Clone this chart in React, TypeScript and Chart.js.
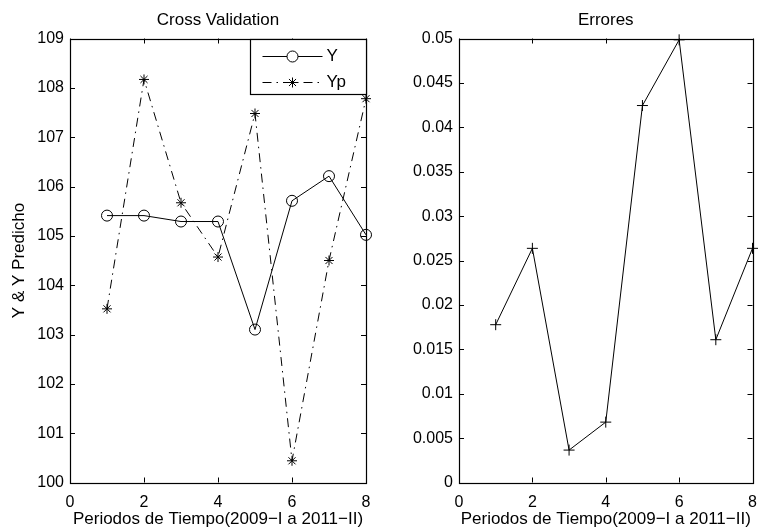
import React, { useEffect, useRef } from "react";
import { Chart, registerables } from "chart.js";

Chart.register(...registerables);

// Periods (x positions) shared by both panels
const PERIODS = [1, 2, 3, 4, 5, 6, 7, 8];
// Observed values
const Y_ACTUAL = [105.41, 105.41, 105.29, 105.29, 103.1, 105.71, 106.21, 105.02];
// Predicted values
const Y_PRED = [103.52, 108.17, 105.67, 104.57, 107.48, 100.44, 104.5, 107.78];
// Relative errors
const ERRORS = [0.01777, 0.02637, 0.00365, 0.0068, 0.04245, 0.04985, 0.01608, 0.02637];

const X_TICKS = [0, 2, 4, 6, 8];
const CV_TICKS = [100, 101, 102, 103, 104, 105, 106, 107, 108, 109];
const ERR_TICKS = [0, 0.005, 0.01, 0.015, 0.02, 0.025, 0.03, 0.035, 0.04, 0.045, 0.05];
const ERR_TICK_LABELS = ["0", "0.005", "0.01", "0.015", "0.02", "0.025", "0.03", "0.035", "0.04", "0.045", "0.05"];

const X_LABEL = "Periodos de Tiempo(2009\u2212I a 2011\u2212II)";
const FONT = "'Liberation Sans', Arial, Helvetica, sans-serif";
const DASH_DOT = [9, 5, 1.5, 5];

// Axes box with inward tick marks on all four sides, plus a centred panel title
const framePlugin = {
  id: "frame",
  afterDraw(chart: any, _args: any, opts: any) {
    const { ctx, chartArea } = chart;
    const { left, right, top, bottom } = chartArea;
    const xs = chart.scales.x;
    const ys = chart.scales.y;
    const len = 5;
    ctx.save();
    ctx.strokeStyle = "#000";
    ctx.lineWidth = 1;
    ctx.beginPath();
    xs.ticks.forEach((t: any) => {
      const px = Math.round(xs.getPixelForValue(t.value)) + 0.5;
      ctx.moveTo(px, bottom);
      ctx.lineTo(px, bottom - len);
      ctx.moveTo(px, top);
      ctx.lineTo(px, top + len);
    });
    ys.ticks.forEach((t: any) => {
      const py = Math.round(ys.getPixelForValue(t.value)) + 0.5;
      ctx.moveTo(left, py);
      ctx.lineTo(left + len, py);
      ctx.moveTo(right, py);
      ctx.lineTo(right - len, py);
    });
    ctx.stroke();
    ctx.lineWidth = 1.2;
    ctx.strokeRect(Math.round(left) + 0.5, Math.round(top) + 0.5, Math.round(right - left), Math.round(bottom - top));
    if (opts && opts.text) {
      ctx.fillStyle = "#000";
      ctx.font = `17px ${FONT}`;
      ctx.textAlign = "center";
      ctx.textBaseline = "middle";
      ctx.fillText(opts.text, (left + right) / 2, 20);
    }
    ctx.restore();
  },
};

function drawStar(ctx: CanvasRenderingContext2D, x: number, y: number, r: number) {
  ctx.beginPath();
  for (let i = 0; i < 4; i++) {
    const a = (i * Math.PI) / 4;
    ctx.moveTo(x - r * Math.cos(a), y - r * Math.sin(a));
    ctx.lineTo(x + r * Math.cos(a), y + r * Math.sin(a));
  }
  ctx.stroke();
}

// Legend box in the upper-right corner of the first panel
const legendBoxPlugin = {
  id: "legendBox",
  afterDraw(chart: any) {
    const { ctx, chartArea } = chart;
    const x1 = Math.round(chartArea.right) + 0.5;
    const x0 = x1 - 116;
    const y0 = Math.round(chartArea.top) + 0.5;
    const y1 = y0 + 55;
    ctx.save();
    ctx.fillStyle = "#fff";
    ctx.fillRect(x0, y0, x1 - x0, y1 - y0);
    ctx.strokeStyle = "#000";
    ctx.lineWidth = 1.2;
    ctx.strokeRect(x0, y0, x1 - x0, y1 - y0);

    const lx0 = x0 + 12;
    const lx1 = x0 + 72;
    const mx = (lx0 + lx1) / 2;
    const rows = [
      { y: y0 + 17, label: "Y", dash: [] as number[], marker: "circle" },
      { y: y0 + 43, label: "Yp", dash: DASH_DOT, marker: "star" },
    ];
    rows.forEach((r) => {
      ctx.lineWidth = 1;
      ctx.setLineDash(r.dash);
      ctx.beginPath();
      ctx.moveTo(lx0, r.y);
      ctx.lineTo(lx1, r.y);
      ctx.stroke();
      ctx.setLineDash([]);
      if (r.marker === "circle") {
        ctx.fillStyle = "#fff";
        ctx.beginPath();
        ctx.arc(mx, r.y, 5.5, 0, Math.PI * 2);
        ctx.fill();
        ctx.stroke();
      } else {
        drawStar(ctx, mx, r.y, 5);
      }
      ctx.fillStyle = "#000";
      ctx.font = `17px ${FONT}`;
      ctx.textAlign = "left";
      ctx.textBaseline = "middle";
      ctx.fillText(r.label, lx1 + 4, r.y);
    });
    ctx.restore();
  },
};

function axisFont(size: number) {
  return { family: FONT, size, weight: "normal" as const };
}

function baseScales(yMin: number, yMax: number, yTicks: number[], yWidth: number, yLabels?: string[], yTitle?: string) {
  return {
    x: {
      type: "linear" as const,
      min: 0,
      max: 8,
      grid: { display: false, drawTicks: false },
      border: { display: false },
      ticks: { color: "#000", font: axisFont(16), padding: 10, maxRotation: 0, autoSkip: false },
      afterBuildTicks: (s: any) => {
        s.ticks = X_TICKS.map((v) => ({ value: v }));
      },
      afterFit: (s: any) => {
        s.height = 48.5;
        // end labels overhang freely; the plot area is fixed by the layout padding
        s.paddingLeft = 0;
        s.paddingRight = 0;
      },
      title: {
        display: true,
        text: X_LABEL,
        color: "#000",
        font: axisFont(17),
        padding: { top: 0, bottom: 1 },
      },
    },
    y: {
      type: "linear" as const,
      min: yMin,
      max: yMax,
      grid: { display: false, drawTicks: false },
      border: { display: false },
      ticks: {
        color: "#000",
        font: axisFont(16),
        padding: 6,
        autoSkip: false,
        callback: (v: any, i: number) => (yLabels ? yLabels[i] : String(v)),
      },
      afterBuildTicks: (s: any) => {
        s.ticks = yTicks.map((v) => ({ value: v }));
      },
      afterFit: (s: any) => {
        s.width = yWidth;
        s.paddingTop = 0;
        s.paddingBottom = 0;
      },
      title: {
        display: !!yTitle,
        text: yTitle || "",
        color: "#000",
        font: axisFont(17),
        padding: { top: 9, bottom: 0 },
      },
    },
  };
}

export default function App() {
  const leftRef = useRef<HTMLCanvasElement>(null);
  const rightRef = useRef<HTMLCanvasElement>(null);

  useEffect(() => {
    const cv = new Chart(leftRef.current as HTMLCanvasElement, {
      type: "line",
      data: {
        datasets: [
          {
            label: "Y",
            data: PERIODS.map((p, i) => ({ x: p, y: Y_ACTUAL[i] })),
            borderColor: "#000",
            borderWidth: 1,
            pointStyle: "circle",
            pointRadius: 5.5,
            pointBorderWidth: 1,
            pointBorderColor: "#000",
            pointBackgroundColor: "rgba(0,0,0,0)",
            tension: 0,
            clip: false as any,
          },
          {
            label: "Yp",
            data: PERIODS.map((p, i) => ({ x: p, y: Y_PRED[i] })),
            borderColor: "#000",
            borderWidth: 1,
            borderDash: DASH_DOT,
            pointStyle: "star",
            pointRadius: 5,
            pointBorderWidth: 1,
            pointBorderColor: "#000",
            pointBackgroundColor: "#000",
            tension: 0,
            clip: false as any,
          },
        ],
      },
      options: {
        animation: false,
        responsive: false,
        events: [],
        layout: { padding: { left: 0, right: 14, top: 38.5, bottom: 0 } },
        plugins: {
          legend: { display: false },
          tooltip: { enabled: false },
          title: { display: false },
          frame: { text: "Cross Validation" },
        } as any,
        scales: baseScales(100, 109, CV_TICKS, 70, undefined, "Y & Y Predicho") as any,
      },
      plugins: [framePlugin, legendBoxPlugin],
    });

    const ev = new Chart(rightRef.current as HTMLCanvasElement, {
      type: "line",
      data: {
        datasets: [
          {
            label: "Error",
            data: PERIODS.map((p, i) => ({ x: p, y: ERRORS[i] })),
            borderColor: "#000",
            borderWidth: 1,
            pointStyle: "cross",
            pointRadius: 5.5,
            pointBorderWidth: 1,
            pointBorderColor: "#000",
            tension: 0,
            clip: false as any,
          },
        ],
      },
      options: {
        animation: false,
        responsive: false,
        events: [],
        layout: { padding: { left: 0, right: 5, top: 38.5, bottom: 0 } },
        plugins: {
          legend: { display: false },
          tooltip: { enabled: false },
          title: { display: false },
          frame: { text: "Errores" },
        } as any,
        scales: baseScales(0, 0.05, ERR_TICKS, 79, ERR_TICK_LABELS) as any,
      },
      plugins: [framePlugin],
    });

    return () => {
      cv.destroy();
      ev.destroy();
    };
  }, []);

  return (
    <div style={{ position: "fixed", left: 0, top: 0, width: 759, height: 531, background: "#fff" }}>
      <canvas ref={leftRef} width={380} height={531} style={{ position: "absolute", left: 0, top: 0, width: 380, height: 531 }} />
      <canvas ref={rightRef} width={379} height={531} style={{ position: "absolute", left: 380, top: 0, width: 379, height: 531 }} />
    </div>
  );
}
